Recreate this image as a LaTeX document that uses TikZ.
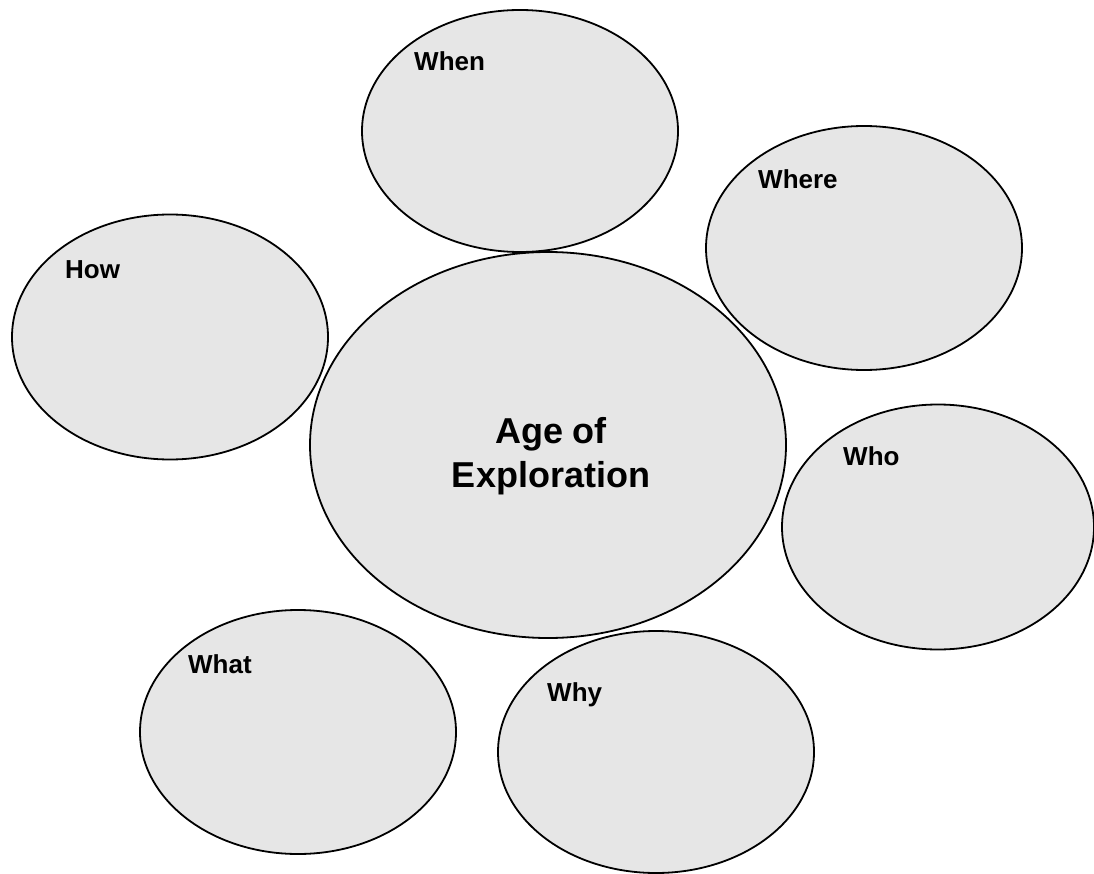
\documentclass[tikz,border=0pt]{standalone}
\usepackage{fontspec}
\setmainfont{Liberation Sans}
\usetikzlibrary{shapes.geometric}
\definecolor{blobfill}{RGB}{230,230,230}
\tikzset{
  blob/.style={ellipse, draw=black, line width=1.8pt, fill=blobfill, inner sep=0pt},
  lbl/.style={anchor=base west, inner sep=0pt, font=\fontsize{26}{30}\selectfont\bfseries},
  ctr/.style={anchor=base, inner sep=0pt, font=\fontsize{36}{44}\selectfont\bfseries}
}
\begin{document}
\begin{tikzpicture}[x=1pt,y=-1pt]
\useasboundingbox (0,0) rectangle (1094,874);
\node[blob, minimum width=316pt, minimum height=242pt] (when) at (520,131) {};
\node[blob, minimum width=316pt, minimum height=244pt] (where) at (864,248) {};
\node[blob, minimum width=316pt, minimum height=245pt] (how) at (170,337) {};
\node[blob, minimum width=312pt, minimum height=245pt] (who) at (938,527) {};
\node[blob, minimum width=316pt, minimum height=244pt] (what) at (298,732) {};
\node[blob, minimum width=316pt, minimum height=242pt] (why) at (656,752) {};
\node[blob, minimum width=476pt, minimum height=386pt] (age) at (548,445) {};
\node[lbl] (twhen) at (414,71) {When};
\node[lbl] (twhere) at (758,189) {Where};
\node[lbl] (thow) at (65,279) {How};
\node[lbl] (twho) at (843,465) {Who};
\node[lbl] (twhat) at (188,673) {What};
\node[lbl] (twhy) at (547,701) {Why};
\node[ctr] (t1) at (551,443) {Age of};
\node[ctr] (t2) at (551,487) {Exploration};
\end{tikzpicture}
\end{document}
